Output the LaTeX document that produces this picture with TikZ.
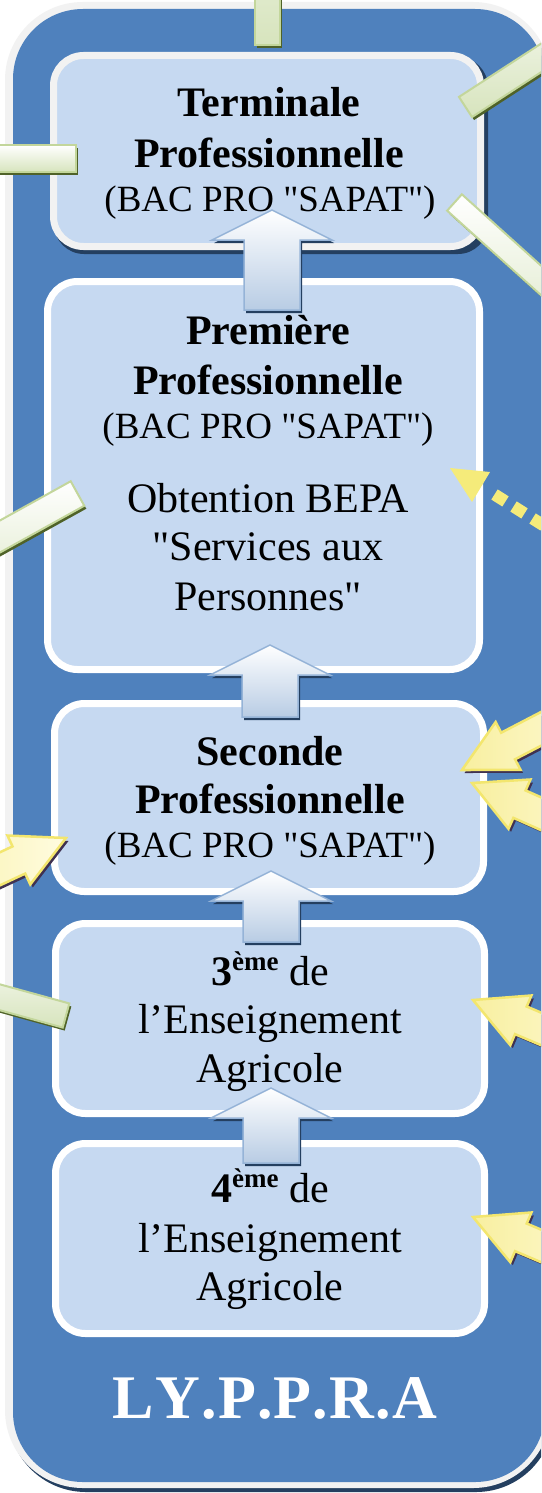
\documentclass[tikz,border=0pt]{standalone}
\usepackage{fontspec}
\setmainfont{Liberation Serif}
\newfontfamily\rmq{Liberation Serif}
\definecolor{frameblue}{HTML}{4F81BD}
\definecolor{boxfill}{HTML}{C6D9F1}
\definecolor{framegray}{HTML}{F2F2F2}
\definecolor{darkshadow}{HTML}{243F60}
\definecolor{arrowborder}{HTML}{95B3D7}
\definecolor{arrowbot}{HTML}{B8CCE4}
\definecolor{ylborder}{HTML}{F3E66E}
\definecolor{ylfill}{HTML}{FFFCE0}
\definecolor{ylfill2}{HTML}{F8EFA0}
\definecolor{ylshadow}{HTML}{3F3151}
\definecolor{grborder}{HTML}{C3D69B}
\definecolor{grfill}{HTML}{D7E4BD}
\definecolor{grshadow}{HTML}{4F6228}
\definecolor{dotyellow}{HTML}{F5EB7A}
\newcommand{\bigbf}{\rmq\fontsize{42}{50}\selectfont\bfseries}
\newcommand{\bigrm}{\rmq\fontsize{42}{50}\selectfont}
\newcommand{\midrm}{\rmq\fontsize{37}{44}\selectfont}
\newcommand{\supbf}[1]{\raisebox{15pt}{\fontsize{27}{27}\selectfont\bfseries #1}}
\newcommand{\uparr}[3]{%
 \fill[darkshadow] (#1+2,#2-3) -- (#1+62,#2-33) -- (#1+30,#2-33) -- (#1+30,#2-#3-3) -- (#1-26,#2-#3-3) -- (#1-26,#2-33) -- (#1-58,#2-33) -- cycle;
 \shadedraw[uparrowstyle] (#1,#2) -- (#1+60,#2-30) -- (#1+28,#2-30) -- (#1+28,#2-#3) -- (#1-28,#2-#3) -- (#1-28,#2-30) -- (#1-60,#2-30) -- cycle;}
\newcommand{\yarr}[3]{%
 \begin{scope}[shift={(#1+2.5,#2-3)},rotate=#3]
  \fill[ylshadow] (0,0) -- (-52,27) -- (-52,15) -- (-170,15) -- (-170,-15) -- (-52,-15) -- (-52,-27) -- cycle;
 \end{scope}
 \begin{scope}[shift={(#1,#2)},rotate=#3]
  \shadedraw[yarrowstyle] (0,0) -- (-52,27) -- (-52,15) -- (-170,15) -- (-170,-15) -- (-52,-15) -- (-52,-27) -- cycle;
 \end{scope}}
\newcommand{\gbar}[4]{%
 \begin{scope}[shift={(#1+2,#2-3)},rotate=#3]
  \fill[grshadow] (0,-#4/2) rectangle (240,#4/2);
 \end{scope}
 \begin{scope}[shift={(#1,#2)},rotate=#3]
  \shadedraw[gbarstyle] (0,-#4/2) rectangle (240,#4/2);
 \end{scope}}
\tikzset{
 boxstyle/.style={fill=boxfill, draw=white, line width=7pt, rounded corners=30pt, inner sep=0pt},
 txt/.style={anchor=base, inner sep=0pt, align=center},
 uparrowstyle/.style={top color=white, bottom color=arrowbot, draw=arrowborder, line width=1.5pt, line join=miter},
 yarrowstyle/.style={left color=ylfill2, right color=ylfill, draw=ylborder, line width=2.5pt, line join=miter},
 gbarstyle/.style={top color=white, bottom color=grfill, draw=grborder, line width=2pt}
}
\begin{document}
\begin{tikzpicture}[x=1pt,y=1pt]
\useasboundingbox (0,0) rectangle (541,-1493);
\fill[white] (0,0) rectangle (541,-1493);
\begin{scope}
\clip (0,0) rectangle (541,-1493);
% frame
\fill[darkshadow, rounded corners=78pt] (8,-8) rectangle (554,-1492);
\fill[framegray, rounded corners=78pt] (5,-2) rectangle (551,-1488);
\fill[frameblue, rounded corners=70pt] (13,-9) rectangle (545,-1482);
% boxes
\fill[darkshadow, rounded corners=30pt] (54,-57) rectangle (488,-254);
\node[boxstyle, draw=framegray, minimum width=427pt, minimum height=191pt] (term) at (267,-151) {};
\node[boxstyle, minimum width=432pt, minimum height=388pt] (prem) at (263.5,-475.5) {};
\node[boxstyle, minimum width=429pt, minimum height=188pt] (sec) at (269,-797.5) {};
\node[boxstyle, minimum width=429pt, minimum height=190pt] (trois) at (270,-1018.5) {};
\node[boxstyle, minimum width=429pt, minimum height=190pt] (quatre) at (270,-1238.5) {};
% up arrows
\uparr{272}{-210}{100}
\uparr{270}{-645}{72}
\uparr{271}{-871}{71}
\uparr{271}{-1088}{75}
% texts
\node[txt, font=\bigbf] (t1) at (269,-117) {Terminale};
\node[txt, font=\bigbf] (t2) at (269,-167) {Professionnelle};
\node[txt, font=\midrm] (t3) at (270,-211) {(BAC PRO "SAPAT")};
\node[txt, font=\bigbf] (p1) at (268,-344) {Première};
\node[txt, font=\bigbf] (p2) at (268,-394) {Professionnelle};
\node[txt, font=\midrm] (p3) at (268,-438) {(BAC PRO "SAPAT")};
\node[txt, font=\bigrm] (p4) at (268,-512) {Obtention BEPA};
\node[txt, font=\bigrm] (p5) at (268,-560) {"Services aux};
\node[txt, font=\bigrm] (p6) at (268,-610) {Personnes"};
\node[txt, font=\bigbf] (s1) at (270,-765) {Seconde};
\node[txt, font=\bigbf] (s2) at (270,-813) {Professionnelle};
\node[txt, font=\midrm] (s3) at (270,-857) {(BAC PRO "SAPAT")};
\node[txt, font=\bigrm] (a1) at (270,-985) {{\bfseries 3}\supbf{ème} de};
\node[txt, font=\bigrm] (a2) at (270,-1033) {l’Enseignement};
\node[txt, font=\bigrm] (a3) at (270,-1082) {Agricole};
\node[txt, font=\bigrm] (b1) at (270,-1202) {{\bfseries 4}\supbf{ème} de};
\node[txt, font=\bigrm] (b2) at (270,-1252) {l’Enseignement};
\node[txt, font=\bigrm] (b3) at (270,-1300) {Agricole};
\node[txt, font=\rmq\fontsize{62}{70}\selectfont\bfseries, text=white] (lyppra) at (275,-1418) {L\kern1.2pt Y\kern1.2pt .\kern1.2pt P\kern1.2pt .\kern1.2pt P\kern1.2pt .\kern1.2pt R\kern1.2pt .\kern1.2pt A};
% green bars
\gbar{267.5}{-45}{90}{25}
\gbar{76}{-158.5}{180}{27}
\gbar{465.5}{-107}{33}{24}
\gbar{454.5}{-202.5}{-42}{22}
\gbar{77.5}{-493.5}{209}{28}
\gbar{66}{-1015.5}{164.6}{25}
% yellow arrows
\yarr{66}{-838}{25}
\yarr{462}{-770}{207.5}
\yarr{472}{-783}{156}
\yarr{473}{-1000}{157}
\yarr{473}{-1217}{157}
% dotted arrow
\fill[dotyellow] (450,-468) -- (490,-472) -- (472,-502) -- cycle;
\draw[dotyellow, line width=12pt, dash pattern=on 13pt off 9.5pt] (494.5,-494.5) -- (600,-561);
\end{scope}
\end{tikzpicture}
\end{document}
